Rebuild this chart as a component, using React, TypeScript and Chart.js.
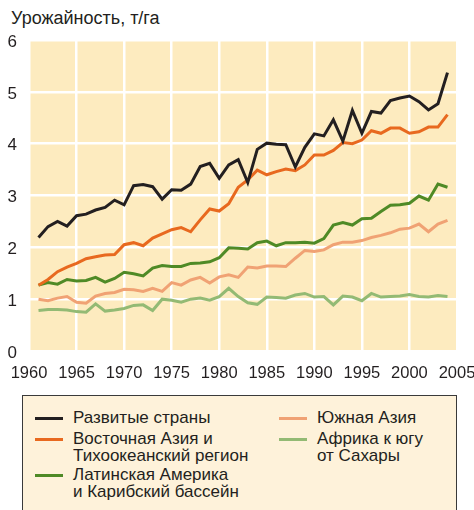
import React, { useEffect, useRef } from "react";
import { Chart, registerables } from "chart.js";

Chart.register(...registerables);

const years = [
  1961, 1962, 1963, 1964, 1965, 1966, 1967, 1968, 1969, 1970,
  1971, 1972, 1973, 1974, 1975, 1976, 1977, 1978, 1979, 1980,
  1981, 1982, 1983, 1984, 1985, 1986, 1987, 1988, 1989, 1990,
  1991, 1992, 1993, 1994, 1995, 1996, 1997, 1998, 1999, 2000,
  2001, 2002, 2003, 2004,
];

const developed = [
  2.19, 2.4, 2.5, 2.41, 2.61, 2.64, 2.72, 2.77, 2.91, 2.82,
  3.19, 3.21, 3.17, 2.93, 3.11, 3.1, 3.22, 3.56, 3.62, 3.33,
  3.59, 3.69, 3.25, 3.89, 4.01, 3.99, 3.98, 3.55, 3.93, 4.19,
  4.15, 4.46, 4.05, 4.64, 4.2, 4.62, 4.59, 4.83, 4.88, 4.92,
  4.81, 4.65, 4.77, 5.37,
];

const eastAsia = [
  1.27, 1.38, 1.53, 1.62, 1.69, 1.78, 1.82, 1.85, 1.86, 2.05,
  2.09, 2.03, 2.18, 2.26, 2.34, 2.38, 2.3, 2.53, 2.74, 2.7,
  2.84, 3.16, 3.3, 3.49, 3.4, 3.46, 3.51, 3.48, 3.59, 3.78,
  3.78, 3.87, 4.02, 4.0, 4.07, 4.25, 4.2, 4.3, 4.3, 4.2,
  4.23, 4.32, 4.32, 4.56,
];

const latinAmerica = [
  1.27, 1.32, 1.29, 1.38, 1.35, 1.36, 1.42, 1.33, 1.4, 1.52,
  1.49, 1.45, 1.6, 1.65, 1.63, 1.63, 1.69, 1.7, 1.72, 1.8,
  1.99, 1.98, 1.97, 2.09, 2.12, 2.03, 2.09, 2.09, 2.1, 2.08,
  2.17, 2.43, 2.48, 2.43, 2.55, 2.56, 2.69, 2.81, 2.82, 2.85,
  2.99, 2.91, 3.22, 3.16,
];

const southAsia = [
  1.0, 0.97, 1.02, 1.05, 0.94, 0.92, 1.06, 1.11, 1.13, 1.19,
  1.18, 1.15, 1.21, 1.15, 1.32, 1.27, 1.37, 1.42, 1.31, 1.43,
  1.47, 1.42, 1.62, 1.6, 1.64, 1.64, 1.63, 1.79, 1.94, 1.92,
  1.95, 2.05, 2.1, 2.1, 2.13, 2.19, 2.23, 2.28, 2.35, 2.37,
  2.45, 2.3, 2.45, 2.52,
];

const subSaharanAfrica = [
  0.78, 0.8, 0.8, 0.79, 0.76, 0.75, 0.91, 0.77, 0.79, 0.82,
  0.88, 0.89, 0.78, 1.0, 0.98, 0.94, 1.0, 1.02, 0.98, 1.05,
  1.21, 1.05, 0.93, 0.9, 1.04, 1.03, 1.02, 1.08, 1.11, 1.04,
  1.05, 0.89, 1.06, 1.04, 0.97, 1.11, 1.04, 1.05, 1.06, 1.09,
  1.05, 1.04, 1.07, 1.05,
];

const yTitle = "Урожайность, т/га";

const seriesNames = [
  "Развитые страны",
  "Восточная Азия и\nТихоокеанский регион",
  "Латинская Америка\nи Карибский бассейн",
  "Южная Азия",
  "Африка к югу\nот Сахары",
];

const seriesColors = ["#231f20", "#e8691f", "#4f8a26", "#f0a274", "#93ba74"];

const seriesValues = [developed, eastAsia, latinAmerica, southAsia, subSaharanAfrica];

const narrow = '"Liberation Sans Narrow", "Liberation Sans", Arial, sans-serif';
const regular = '"Liberation Sans", Arial, sans-serif';

const plotBg = {
  id: "plotBg",
  beforeDraw(chart: any) {
    const { ctx, chartArea } = chart;
    ctx.save();
    ctx.fillStyle = "#fdebbf";
    ctx.fillRect(chartArea.left, chartArea.top, chartArea.right - chartArea.left, chartArea.bottom - chartArea.top);
    ctx.restore();
  },
};

function ChartCanvas() {
  const ref = useRef<HTMLCanvasElement | null>(null);
  useEffect(() => {
    if (!ref.current) return;
    const chart = new Chart(ref.current, {
      type: "line",
      data: {
        datasets: seriesValues.map((vals, i) => ({
          label: seriesNames[i],
          data: vals.map((v, j) => ({ x: years[j], y: v })),
          borderColor: seriesColors[i],
          backgroundColor: seriesColors[i],
          borderWidth: 3,
          pointRadius: 0,
          tension: 0,
          fill: false,
        })),
      },
      options: {
        animation: false,
        responsive: false,
        maintainAspectRatio: false,
        layout: { padding: { top: 40, right: 0, left: 0, bottom: 0 } },
        plugins: {
          legend: { display: false },
          tooltip: { enabled: false },
          title: { display: false },
        },
        scales: {
          x: {
            type: "linear",
            min: 1960,
            max: 2005,
            afterFit: (s: any) => {
              s.height = 39;
              s.paddingRight = 17;
              s.paddingLeft = 0;
            },
            ticks: {
              stepSize: 5,
              padding: 13,
              color: "#231f20",
              font: { family: regular, size: 16.5 },
              maxRotation: 0,
              autoSkip: false,
              callback: (v: any) => String(v),
            },
            grid: { color: "#ffffff", lineWidth: 2.5, drawTicks: false },
            border: { display: false },
          },
          y: {
            min: 0,
            max: 6,
            afterFit: (s: any) => {
              s.width = 29;
            },
            ticks: {
              stepSize: 1,
              padding: 12,
              labelOffset: 2,
              color: "#231f20",
              font: { family: regular, size: 17 },
            },
            grid: { color: "#ffffff", lineWidth: 2.5, drawTicks: false },
            border: { display: false },
          },
        },
      },
      plugins: [plotBg],
    } as any);
    return () => chart.destroy();
  }, []);
  return <canvas ref={ref} width={474} height={390} style={{ position: "absolute", left: 0, top: 0, width: 474, height: 390 }} />;
}

const legendItems = [
  { i: 0, lineX: 35, textX: 73, top: 409 },
  { i: 1, lineX: 35, textX: 73, top: 430 },
  { i: 2, lineX: 35, textX: 73, top: 466 },
  { i: 3, lineX: 279, textX: 317, top: 409 },
  { i: 4, lineX: 279, textX: 317, top: 430 },
];

export default function App() {
  useEffect(() => {
    document.body.style.margin = "0";
  }, []);
  return (
    <div style={{ position: "absolute", left: 0, top: 0, width: 474, height: 510, overflow: "hidden", background: "#fff" }}>
      <div
        style={{
          position: "absolute",
          left: 11,
          top: 9,
          fontFamily: narrow,
          fontSize: 18,
          lineHeight: "18px",
          color: "#231f20",
          whiteSpace: "nowrap",
        }}
      >
        {yTitle}
      </div>
      <ChartCanvas />
      <div
        style={{
          position: "absolute",
          left: 22,
          top: 395,
          width: 433,
          height: 130,
          background: "#fef2da",
          border: "1.5px solid #3a3a3a",
        }}
      />
      {legendItems.map((it) => (
        <React.Fragment key={it.i}>
          <div
            style={{
              position: "absolute",
              left: it.lineX,
              top: it.top + 7.5,
              width: 28,
              height: 3,
              background: seriesColors[it.i],
            }}
          />
          <div
            style={{
              position: "absolute",
              left: it.textX,
              top: it.top,
              fontFamily: narrow,
              fontSize: 17,
              lineHeight: "17px",
              color: "#231f20",
              whiteSpace: "pre",
            }}
          >
            {seriesNames[it.i]}
          </div>
        </React.Fragment>
      ))}
    </div>
  );
}
